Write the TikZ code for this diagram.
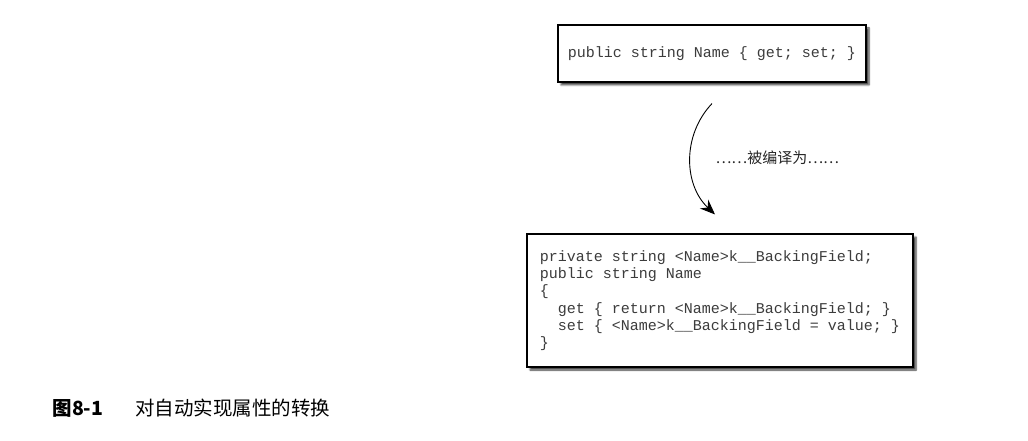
\documentclass[tikz,border=0pt]{standalone}
\usepackage{fontspec}
\setmonofont{Liberation Mono}
\newfontfamily\cjk{Noto Sans CJK SC}
\usetikzlibrary{arrows.meta,positioning,shadows.blur}
\definecolor{codeGray}{HTML}{3C3C3C}
\tikzset{
  codebox/.style={draw=black, line width=1.1pt, fill=white, align=left,
    text=codeGray, font=\ttfamily\fontsize{15}{17.3}\selectfont\frenchspacing,
    blur shadow={shadow xshift=3pt, shadow yshift=-3pt, shadow blur steps=6, shadow opacity=75}},
  compiles/.style={line width=0.9pt, -{Stealth[length=15pt,width=12pt]}}
}
\newcommand{\ind}{\phantom{xx}}

\begin{document}
\begin{tikzpicture}[x=1pt,y=-1pt]
\useasboundingbox (0,0) rectangle (1028,441);
\node[codebox, minimum width=308pt, minimum height=57pt] (src) at (712,53.5)
  {public string Name \{ get; set; \}};
\node[codebox, minimum width=386pt, minimum height=133pt] (dst) at (720,300.5)
  {private string <Name>k\_\_BackingField;\\
   public string Name\\
   \{\\
   \ind get \{ return <Name>k\_\_BackingField; \}\\
   \ind set \{ <Name>k\_\_BackingField = value; \}\\
   \}};
\coordinate (t) at ([yshift=-21pt]src.south);
\coordinate (h) at ([xshift=-5pt,yshift=19pt]dst.north);
\draw[compiles] (t) to[bend right=45] (h);
\node[anchor=west, font=\cjk\fontsize{15}{18}\selectfont, text=black!85] (lbl) at (712,158) {……被编译为……};
\node[anchor=west, font=\cjk\fontsize{19.5}{22}\selectfont] (cap) at (49,408) {\textbf{图8-1}\hspace{32pt}对自动实现属性的转换};
\end{tikzpicture}
\end{document}
